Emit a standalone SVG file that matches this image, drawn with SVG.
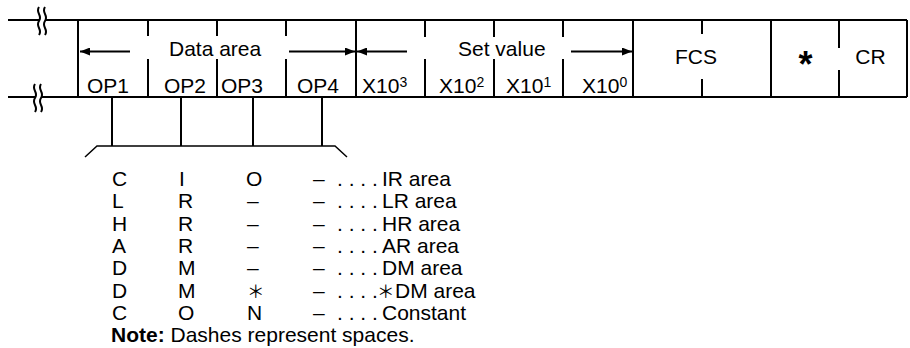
<svg xmlns="http://www.w3.org/2000/svg" width="910" height="348" viewBox="0 0 910 348">
<defs>
<marker id="ah" viewBox="0 0 10 8" refX="10" refY="4" markerWidth="10" markerHeight="8" markerUnits="userSpaceOnUse" orient="auto"><path d="M0,0 L10,4 L0,8 z" fill="#000"/></marker>
</defs>
<style>
.t{font-family:"Liberation Sans",Arial,sans-serif;font-size:21px;fill:#000}
.sup{font-size:14px}
.b{font-weight:bold}
.ln{stroke:#000;stroke-width:2;fill:none}
.thin{stroke:#000;stroke-width:1.5;fill:none}
.ar{stroke:#000;stroke-width:2;fill:none;marker-end:url(#ah)}
.cjk{font-family:"Noto Sans CJK JP","Liberation Sans",sans-serif;font-size:17.5px}
</style>
<rect width="910" height="348" fill="#fff"/>

<g id="frame">
<path class="ln" d="M8,20 H907 M8,97 H907"/>
<path class="ln" d="M78,20 V97 M356,20 V97 M633,20 V97 M771,20 V97 M907,20 V97"/>
<path d="M39,7 C35,13 43,15 39,21 C35,27 43,29 39,35 H45 C49,29 41,27 45,21 C49,15 41,13 45,7 Z" fill="#fff"/>
<path class="ln" d="M39,7 C35,13 43,15 39,21 C35,27 43,29 39,35 M45,7 C41,13 49,15 45,21 C41,27 49,29 45,35"/>
<path d="M35,84 C31,90 39,92 35,98 C31,104 39,106 35,112 H41 C45,106 37,104 41,98 C45,92 37,90 41,84 Z" fill="#fff"/>
<path class="ln" d="M35,84 C31,90 39,92 35,98 C31,104 39,106 35,112 M41,84 C37,90 45,92 41,98 C37,104 45,106 41,112"/>
</g>

<g id="data-area">
<path class="ln" d="M148,20 V36 M148,59 V97 M217,20 V36 M217,59 V97 M286,20 V36 M286,59 V97"/>
<path class="ar" d="M130,51.5 H80"/>
<path class="ar" d="M289,51.5 H355"/>
<text class="t" x="169" y="56">Data area</text>
<text class="t" x="87" y="93">OP1</text>
<text class="t" x="164" y="93">OP2</text>
<text class="t" x="221" y="93">OP3</text>
<text class="t" x="297" y="93">OP4</text>
</g>

<g id="set-value">
<path class="ln" d="M425,20 V37 M425,59 V97 M494,20 V37 M494,59 V97 M563,20 V37 M563,59 V97"/>
<path class="ar" d="M407,51.5 H357"/>
<path class="ar" d="M571,51.5 H632"/>
<text class="t" x="458" y="56">Set value</text>
<text class="t" x="362" y="93">X10<tspan class="sup" dy="-6">3</tspan></text>
<text class="t" x="439" y="93">X10<tspan class="sup" dy="-6">2</tspan></text>
<text class="t" x="506" y="93">X10<tspan class="sup" dy="-6">1</tspan></text>
<text class="t" x="582" y="93">X10<tspan class="sup" dy="-6">0</tspan></text>
</g>

<g id="fcs">
<path class="ln" d="M702,20 V34 M702,79 V97"/>
<text class="t" x="696" y="64" text-anchor="middle">FCS</text>
</g>

<g id="terminator">
<path class="ln" d="M839,20 V48 M839,70 V97"/>
<text class="t b" x="805.5" y="77" text-anchor="middle" style="font-size:36px">*</text>
<text class="t" x="870.5" y="64" text-anchor="middle">CR</text>
</g>

<g id="connectors">
<path class="ln" d="M112,97 V146 M181,97 V146 M253,97 V146 M322,97 V146"/>
<path class="thin" d="M85,157 L97,146 H335 L347,157"/>
</g>

<g id="legend" class="t">
<text y="186"><tspan x="112">C</tspan><tspan x="179">I</tspan><tspan x="246">O</tspan><tspan x="313">–</tspan><tspan x="337">. . . .</tspan><tspan x="382">IR area</tspan></text>
<text y="208"><tspan x="112">L</tspan><tspan x="178">R</tspan><tspan x="247">–</tspan><tspan x="313">–</tspan><tspan x="337">. . . .</tspan><tspan x="382">LR area</tspan></text>
<text y="231"><tspan x="112">H</tspan><tspan x="178">R</tspan><tspan x="247">–</tspan><tspan x="313">–</tspan><tspan x="337">. . . .</tspan><tspan x="382">HR area</tspan></text>
<text y="253"><tspan x="112">A</tspan><tspan x="178">R</tspan><tspan x="247">–</tspan><tspan x="313">–</tspan><tspan x="337">. . . .</tspan><tspan x="382">AR area</tspan></text>
<text y="275"><tspan x="112">D</tspan><tspan x="178">M</tspan><tspan x="247">–</tspan><tspan x="313">–</tspan><tspan x="337">. . . .</tspan><tspan x="382">DM area</tspan></text>
<text y="298"><tspan x="112">D</tspan><tspan x="178">M</tspan><tspan class="cjk" x="247">＊</tspan><tspan x="313">–</tspan><tspan x="337">. . . .</tspan><tspan class="cjk" x="377">＊</tspan><tspan x="395">DM area</tspan></text>
<text y="320"><tspan x="112">C</tspan><tspan x="178">O</tspan><tspan x="247">N</tspan><tspan x="313">–</tspan><tspan x="337">. . . .</tspan><tspan x="382">Constant</tspan></text>
<text x="111" y="342"><tspan class="b">Note:</tspan> Dashes represent spaces.</text>
</g>
</svg>
